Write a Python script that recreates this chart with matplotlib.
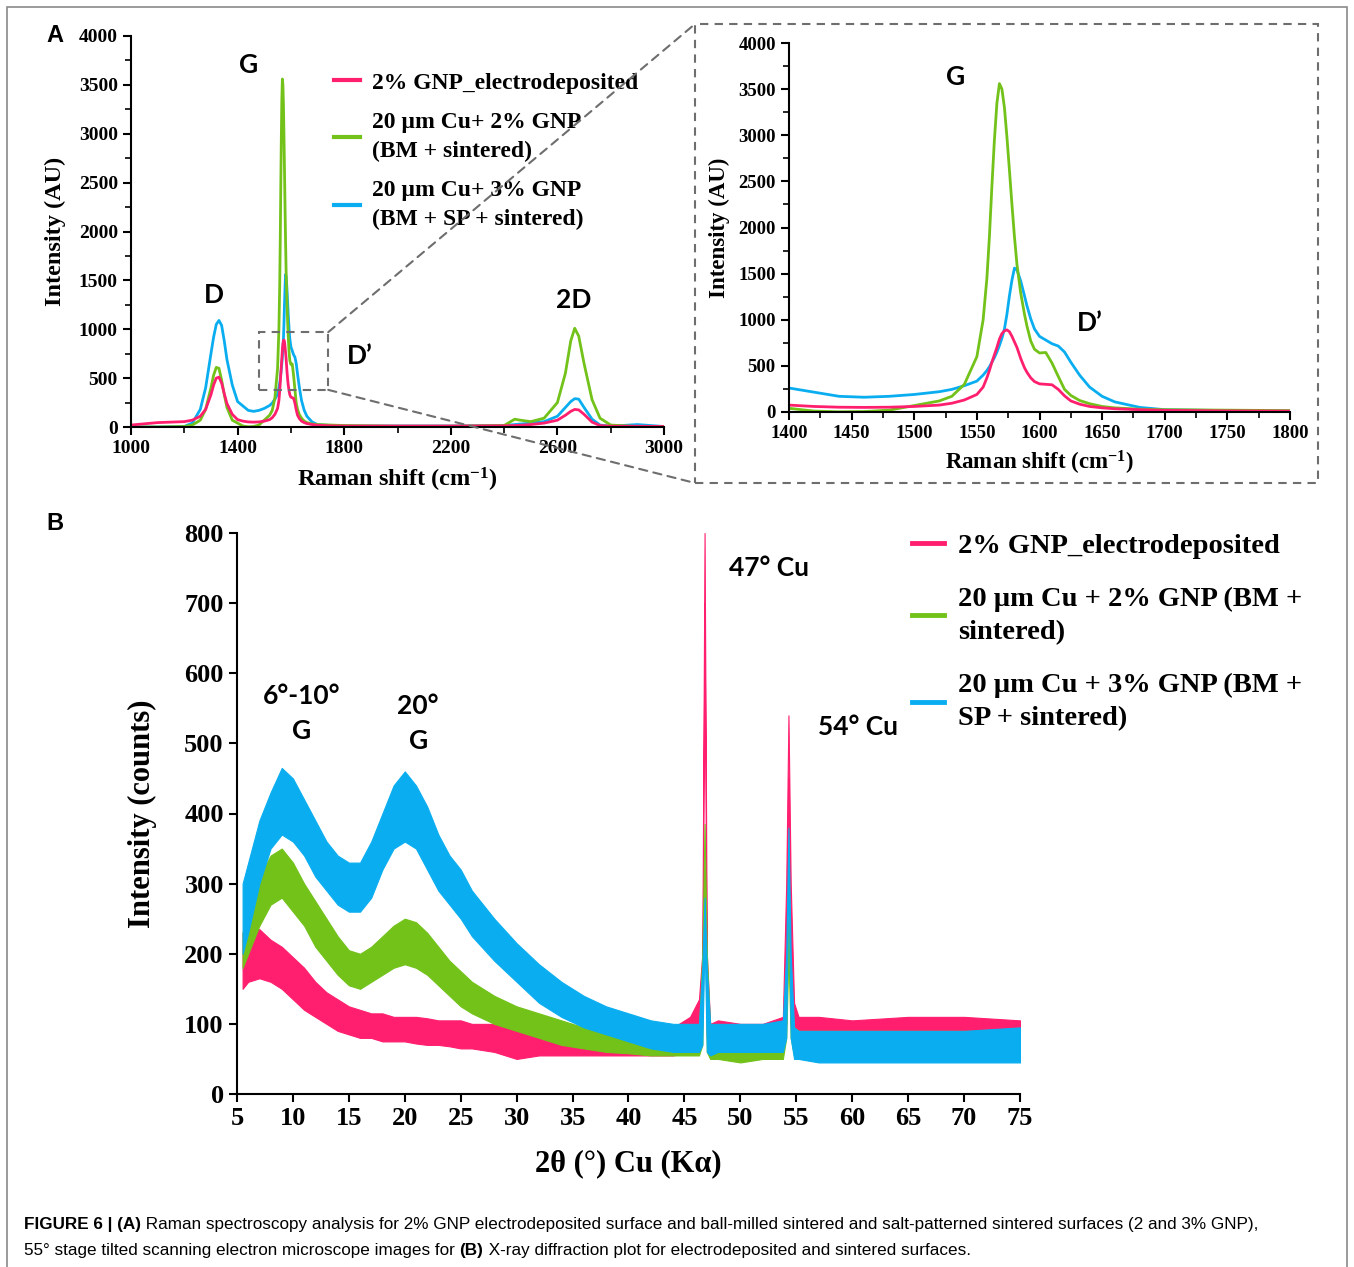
import numpy as np
import matplotlib
import matplotlib.pyplot as plt
from matplotlib.patches import Rectangle, ConnectionPatch
from matplotlib.ticker import MultipleLocator
from matplotlib.lines import Line2D

W, H = 1354, 1267

# ---- Raman spectra (panel A, shared by main plot and zoom) ----
raman_x = [1000, 1100, 1200, 1230, 1260, 1280, 1300, 1310, 1320, 1330, 1340, 1350,
           1360, 1380, 1400, 1420, 1440, 1460, 1480, 1500, 1520, 1530, 1540, 1550,
           1555, 1558, 1560, 1562, 1564, 1566, 1568, 1570, 1572, 1574, 1576, 1578,
           1580, 1582, 1585, 1588, 1590, 1593, 1596, 1600, 1605,
           1610, 1615, 1620, 1625, 1632, 1640, 1650, 1660, 1680, 1700, 1750, 1800,
           2000, 2200, 2400, 2440, 2460, 2500, 2550, 2600, 2630, 2650, 2665, 2680,
           2700, 2730, 2760, 2800, 2900, 3000]
raman_elec = [20, 45, 55, 70, 110, 180, 330, 430, 500, 510, 450, 340,
              240, 130, 75, 60, 52, 50, 52, 60, 75, 95, 130, 190,
              270, 370, 450, 540, 620, 700, 790, 850, 880, 890, 870, 820,
              760, 700, 580, 480, 430, 370, 330, 305, 300,
              295, 245, 175, 120, 85, 60, 45, 35, 25, 18, 12, 10,
              10, 10, 12, 15, 18, 25, 40, 70, 120, 160, 180, 175,
              130, 50, 15, 8, 8, 5]
raman_2gnp = [0, 0, 5, 20, 70, 180, 400, 530, 610, 600, 480, 330,
              200, 70, 40, 10, 2, 5, 20, 70, 120, 170, 300, 600,
              1000, 1450, 1900, 2450, 2950, 3350, 3560, 3500, 3300, 2980, 2620, 2250,
              1900, 1600, 1290, 1060, 930, 770, 680, 640, 645,
              530, 385, 245, 180, 125, 90, 60, 45, 30, 25, 20, 15,
              8, 8, 15, 80, 70, 55, 90, 250, 550, 880, 1010, 930,
              650, 280, 90, 20, 5, 5]
raman_3gnp = [0, 0, 5, 40, 180, 400, 750, 920, 1050, 1090, 1040, 880,
              690, 430, 260, 215, 170, 160, 170, 190, 220, 245, 285, 335,
              400, 450, 490, 540, 590, 650, 720, 800, 900, 1060, 1260, 1430,
              1560, 1540, 1420, 1260, 1150, 1010, 900, 820, 780,
              740, 715, 650, 540, 400, 270, 170, 110, 50, 25, 15, 10,
              10, 10, 15, 25, 30, 40, 55, 110, 200, 260, 290, 285,
              200, 80, 20, 8, 25, 5]

# ---- XRD (panel B): lower / upper envelope of the noisy traces ----
xrd_x = [5.5, 6, 7, 8, 9, 10, 11, 12, 13, 14, 15, 16, 17, 18, 19, 20, 21, 22, 23,
         24, 25, 26, 28, 30, 32, 34, 36, 38, 40, 42, 44, 45.5, 46.3, 46.6, 46.8,
         47.0, 47.3, 48, 50, 52, 53.8, 54.1, 54.3, 54.5, 54.8, 55.2, 57, 60, 65,
         70, 75]
xrd_elec_lo = [150, 160, 165, 160, 150, 135, 120, 110, 100, 90, 85, 80, 80, 75, 75,
               75, 72, 70, 70, 68, 65, 65, 60, 50, 55, 55, 55, 55, 55, 55, 55, 60,
               80, 100, 700, 80, 60, 60, 60, 60, 65, 100, 450, 100, 70, 65, 60, 60,
               60, 60, 65]
xrd_elec_hi = [230, 235, 235, 220, 210, 195, 180, 160, 145, 135, 125, 120, 115, 115,
               110, 110, 110, 108, 105, 105, 105, 100, 100, 100, 95, 90, 90, 90, 90,
               90, 95, 110, 135, 200, 800, 200, 100, 105, 100, 100, 110, 300, 540,
               300, 130, 110, 110, 105, 110, 110, 105]
xrd_2gnp_lo = [180, 200, 240, 270, 280, 260, 240, 210, 190, 170, 155, 150, 160, 170,
               180, 185, 180, 170, 155, 140, 125, 115, 100, 90, 80, 70, 65, 60, 58,
               55, 55, 55, 55, 70, 320, 60, 50, 50, 45, 50, 50, 80, 200, 80, 55, 50,
               50, 50, 50, 50, 50]
xrd_2gnp_hi = [230, 260, 310, 340, 350, 330, 300, 275, 250, 225, 205, 200, 210, 225,
               240, 250, 245, 230, 210, 190, 175, 160, 140, 125, 115, 105, 95, 90, 85,
               85, 85, 85, 90, 200, 385, 200, 90, 85, 80, 85, 90, 150, 250, 150, 95,
               90, 90, 90, 90, 90, 90]
xrd_3gnp_lo = [200, 230, 300, 350, 370, 360, 340, 310, 290, 270, 260, 260, 280, 320,
               350, 360, 350, 320, 290, 270, 250, 225, 190, 160, 130, 110, 95, 85, 75,
               65, 60, 60, 60, 70, 220, 60, 55, 60, 60, 60, 60, 80, 320, 80, 50, 50,
               45, 45, 45, 45, 45]
xrd_3gnp_hi = [300, 330, 390, 430, 465, 450, 420, 390, 360, 340, 330, 330, 360, 400,
               440, 460, 440, 410, 370, 340, 320, 290, 250, 215, 185, 160, 140, 125,
               115, 105, 100, 100, 100, 180, 280, 180, 100, 100, 100, 100, 105, 200,
               380, 200, 95, 90, 90, 90, 90, 90, 95]

labels_a = ['2% GNP_electrodeposited', '20 µm Cu+ 2% GNP\n(BM + sintered)',
            '20 µm Cu+ 3% GNP\n(BM + SP + sintered)']
labels_b = ['2% GNP_electrodeposited', '20 µm Cu + 2% GNP (BM +\nsintered)',
            '20 µm Cu + 3% GNP (BM +\nSP + sintered)']
colors = ['#FF1F6E', '#72C21A', '#0AAEF0']

plt.rcParams['font.family'] = 'Liberation Serif'
plt.rcParams['font.weight'] = 'bold'
plt.rcParams['axes.labelweight'] = 'bold'
plt.rcParams['mathtext.fontset'] = 'custom'
plt.rcParams['mathtext.rm'] = 'Liberation Serif:bold'
plt.rcParams['mathtext.default'] = 'regular'
plt.rcParams['axes.linewidth'] = 1.5

fig = plt.figure(figsize=(W / 100, H / 100), dpi=100)


def fx(x):
    return x / W


def fy(y):
    return 1 - y / H


def px_axes(x0, y0, x1, y1):
    return fig.add_axes([fx(x0), fy(y1), fx(x1) - fx(x0), fy(y0) - fy(y1)])


def style(ax, tick_size):
    ax.spines['top'].set_visible(False)
    ax.spines['right'].set_visible(False)
    ax.tick_params(which='major', direction='out', length=6, width=1.5,
                   labelsize=tick_size)
    ax.tick_params(which='minor', direction='out', length=4, width=1.2)
    for t in ax.get_xticklabels() + ax.get_yticklabels():
        t.set_fontweight('bold')


def spaced_legend(ax, handles, labels, anchor, size, lsp, linesp):
    leg = ax.legend(handles, labels, loc='upper left', bbox_to_anchor=anchor,
                    bbox_transform=fig.transFigure, frameon=False,
                    prop=dict(family='Liberation Serif', weight='bold', size=size),
                    handlelength=1.12, handletextpad=0.5, labelspacing=lsp,
                    borderpad=0, borderaxespad=0)
    for t in leg.get_texts():
        t.set_linespacing(linesp)
    return leg


peak_font = dict(family='Lato', fontweight='bold', fontsize=19)
gray = '#6E6E6E'

# ---------------- panel A main ----------------
ax_a = px_axes(131, 36, 664, 427)
ax_a.plot(raman_x, raman_3gnp, color=colors[2], lw=2)
ax_a.plot(raman_x, raman_2gnp, color=colors[1], lw=2)
ax_a.plot(raman_x, raman_elec, color=colors[0], lw=2)
ax_a.set_xlim(1000, 3000)
ax_a.set_ylim(0, 4000)
ax_a.set_xticks(np.arange(1000, 3001, 400))
ax_a.xaxis.set_minor_locator(MultipleLocator(200))
ax_a.yaxis.set_major_locator(MultipleLocator(500))
ax_a.yaxis.set_minor_locator(MultipleLocator(250))
style(ax_a, 14)
ax_a.set_xlabel('Raman shift (cm$^{-1}$)', fontsize=17.5, labelpad=6)
ax_a.set_ylabel('Intensity (AU)', fontsize=17.5, labelpad=9)

handles = [Line2D([], [], color=c, lw=3) for c in colors]
spaced_legend(ax_a, handles, labels_a, (fx(334), fy(72)), 17, 0.78, 1.48)

ax_a.text(1440, 3700, 'G', ha='center', va='center', **peak_font)
ax_a.text(1310, 1350, 'D', ha='center', va='center', **peak_font)
ax_a.text(1860, 730, 'D’', ha='center', va='center', **peak_font)
ax_a.text(2660, 1300, '2D', ha='center', va='center', **peak_font)

ax_a.add_patch(Rectangle((1480, 380), 260, 590, fill=False, ls=(0, (4, 3)),
                         lw=1.5, ec=gray, zorder=5))

# ---------------- panel A zoom ----------------
ax_z = px_axes(789, 43, 1290, 412)
ax_z.plot(raman_x, raman_3gnp, color=colors[2], lw=2)
ax_z.plot(raman_x, raman_2gnp, color=colors[1], lw=2)
ax_z.plot(raman_x, raman_elec, color=colors[0], lw=2)
ax_z.set_xlim(1400, 1800)
ax_z.set_ylim(0, 4000)
ax_z.xaxis.set_major_locator(MultipleLocator(50))
ax_z.xaxis.set_minor_locator(MultipleLocator(25))
ax_z.yaxis.set_major_locator(MultipleLocator(500))
ax_z.yaxis.set_minor_locator(MultipleLocator(250))
style(ax_z, 13.5)
ax_z.set_xlabel('Raman shift (cm$^{-1}$)', fontsize=16.5, labelpad=5)
ax_z.set_ylabel('Intensity (AU)', fontsize=16.5, labelpad=6)
ax_z.text(1533, 3630, 'G', ha='center', va='center', **peak_font)
ax_z.text(1640, 960, 'D’', ha='center', va='center', **peak_font)

fig.add_artist(Rectangle((fx(695), fy(483)), fx(1318) - fx(695), fy(24) - fy(483),
                         transform=fig.transFigure, fill=False, ls=(0, (4, 3)),
                         lw=1.5, ec=gray))
for ya, yb in [(970, 24), (380, 483)]:
    con = ConnectionPatch(xyA=(1740, ya), coordsA=ax_a.transData,
                          xyB=(fx(695), fy(yb)), coordsB=fig.transFigure,
                          ls=(0, (4, 3)), lw=1.5, color=gray)
    fig.add_artist(con)

# ---------------- panel B ----------------
ax_b = px_axes(237, 533, 1020, 1094)
for lo, hi, c in [(xrd_elec_lo, xrd_elec_hi, colors[0]),
                  (xrd_2gnp_lo, xrd_2gnp_hi, colors[1]),
                  (xrd_3gnp_lo, xrd_3gnp_hi, colors[2])]:
    ax_b.fill_between(xrd_x, lo, hi, color=c, lw=0.8, ec=c)
ax_b.set_xlim(5, 75)
ax_b.set_ylim(0, 800)
ax_b.xaxis.set_major_locator(MultipleLocator(5))
ax_b.yaxis.set_major_locator(MultipleLocator(100))
style(ax_b, 19)
ax_b.set_xlabel('2θ (°) Cu (Kα)', fontsize=22, labelpad=14)
ax_b.set_ylabel('Intensity (counts)', fontsize=22, labelpad=20)

handles_b = [Line2D([], [], color=c, lw=3.5) for c in colors]
spaced_legend(ax_b, handles_b, labels_b, (fx(912), fy(533)), 20.5, 0.98, 1.42)

ax_b.text(10.8, 543, '6°-10°\nG', ha='center', va='center', linespacing=1.55, **peak_font)
ax_b.text(21.2, 529, '20°\nG', ha='center', va='center', linespacing=1.55, **peak_font)
ax_b.text(49.0, 750, '47° Cu', ha='left', va='center', **peak_font)
ax_b.text(56.9, 523, '54° Cu', ha='left', va='center', **peak_font)

# ---------------- panel letters, frame, caption ----------------
fig.text(fx(55), fy(35), 'A', family='Liberation Sans', fontweight='bold',
         fontsize=17, ha='center', va='center')
fig.text(fx(55), fy(523), 'B', family='Liberation Sans', fontweight='bold',
         fontsize=17, ha='center', va='center')
fig.add_artist(Rectangle((fx(7), -0.02), fx(1347) - fx(7), fy(7) + 0.02,
                         transform=fig.transFigure, fill=False, lw=1.2, ec='#8A8A8A'))

renderer = fig.canvas.get_renderer()


def caption_line(x, y, parts):
    for txt, wt in parts:
        t = fig.text(fx(x), fy(y), txt, family='Liberation Sans', fontweight=wt,
                     fontsize=12.3, ha='left', va='center')
        bb = t.get_window_extent(renderer)
        x = bb.x1


caption_line(24, 1225, [('FIGURE 6 | (A)', 'bold'),
                        (' Raman spectroscopy analysis for 2% GNP electrodeposited surface '
                         'and ball-milled sintered and salt-patterned sintered surfaces '
                         '(2 and 3% GNP),', 'normal')])
caption_line(24, 1251, [('55° stage tilted scanning electron microscope images for ', 'normal'),
                        ('(B)', 'bold'),
                        (' X-ray diffraction plot for electrodeposited and sintered surfaces.',
                         'normal')])

fig.savefig('out.png', dpi=100)
